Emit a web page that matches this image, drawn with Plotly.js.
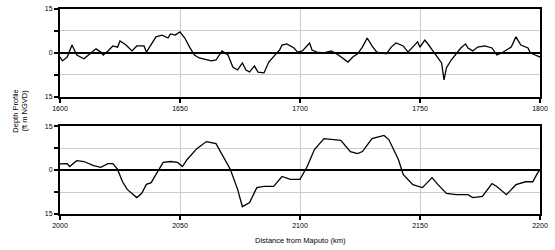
<!DOCTYPE html>
<html><head><meta charset="utf-8">
<script src="https://cdn.plot.ly/plotly-3.0.1.min.js"></script>
<style>html,body{margin:0;padding:0;background:#fff}#chart{width:555px;height:250px}</style>
</head><body><div id="chart"></div>
<script>
var topX = [1600,1601,1603,1605,1607,1609,1610,1612.5,1615,1617,1618,1620,1622,1624,1625,1627.5,1630,1632,1635,1636,1638,1640,1642.5,1645,1646,1648,1650,1652,1654,1656,1658,1661,1663,1665,1667.5,1670,1672,1674,1676,1677.5,1679,1681,1682.5,1685,1687,1690,1691.5,1692.5,1694.5,1697.5,1699,1701,1703,1704,1705,1707,1710,1713,1716,1718,1720,1722,1724,1726,1728,1730,1732,1736,1738,1740,1743,1745,1747,1749,1750,1752,1753,1755,1757,1759,1760,1761,1763,1765,1767,1769,1770,1772,1774,1777,1780,1782,1784,1786,1788,1790,1792,1795,1796,1798,1800];
var topY = [-1.4,-2.7,-1.4,2.7,-0.7,-1.4,-2,-0.3,1.4,0.3,-0.7,0.7,2.4,2,4.1,2.7,0.7,2.4,2.4,0.3,2.7,5.5,6.1,5.1,6.5,6.1,7.2,5.1,2,-0.7,-1.7,-2.4,-2.7,-2.4,0.7,-0.7,-4.8,-5.8,-3.4,-5.8,-6.5,-4.4,-6.5,-6.8,-3.1,-0.3,1,2.7,3.1,1.7,0.3,0.7,2.7,3.4,1,0.3,0,0.7,-0.7,-2,-3.1,-1.4,-0.3,2,5.1,2.4,0.3,-0.3,2,3.4,2.4,0.3,2,3.8,2,4.4,3.4,1,-1.4,-3.4,-9.2,-5.1,-2.4,-0.3,1.7,3.1,1.7,0.7,2,2.4,1.7,-0.7,0,1,2,5.5,2.7,1.7,0,-0.7,-1.4];
var botX = [2000,2003,2004,2007,2010,2014,2017,2020,2022,2024,2026,2028,2032,2034,2036,2038,2040,2043,2046,2049,2051,2053,2057,2061,2065,2068,2071,2074,2076,2079,2082,2085,2089,2092.5,2096,2100,2103,2106,2110,2117,2121,2124,2126,2130,2135,2137,2141,2143,2147,2151,2155,2157.5,2161,2165,2170,2172,2176,2180,2182,2186,2190,2194,2197,2199,2200];
var botY = [2.1,2.2,1.2,3.2,2.9,1.5,0.9,2.2,2.2,0.2,-3.9,-6.6,-9.4,-8,-4.9,-4.3,-1.5,2.6,2.9,2.6,1.2,3.6,7.3,9.7,9,4.6,0.2,-6.6,-12.5,-11.1,-6,-5.6,-5.6,-2.2,-3.2,-3.2,1.2,7,10.7,10.1,6.3,5.6,6.3,10.7,11.8,10.4,3.6,-1.5,-5,-6,-2.6,-5,-8,-8.4,-8.4,-9.4,-9,-4.6,-5.6,-8.4,-5,-4,-4,-1,0];
var topTicks = [1600,1650,1700,1750,1800];
var botTicks = [2000,2050,2100,2150,2200];
var yTickVals = [-15,-7.5,0,7.5,15];
var yTickText = ["15","","0","","15"];
var yTitle = "Depth Profile<br>(ft m NGVD)";
var xTitle = "Distance from Maputo (km)";

var font = {family:"Liberation Sans, Arial, sans-serif", size:7, color:"#000"};
var lineStyle = {color:"#000", width:1.3};
function xa(ticks, anchor){
  return {anchor:anchor, range:[ticks[0],ticks[ticks.length-1]], tickvals:ticks, ticktext:ticks.map(String),
    showline:true, mirror:true, linecolor:"#000", linewidth:2, ticks:"outside", ticklen:4, tickwidth:1.5, tickcolor:"#000",
    showgrid:true, gridcolor:"#cccccc", gridwidth:1, zeroline:false, tickfont:font, fixedrange:true};
}
function ya(domain, anchor){
  return {domain:domain, anchor:anchor, range:[-15,15], tickvals:yTickVals, ticktext:yTickText,
    showline:true, mirror:true, linecolor:"#000", linewidth:2, ticks:"outside", ticklen:4, tickwidth:1.5, tickcolor:"#000",
    showgrid:true, gridcolor:"#cccccc", gridwidth:1, zeroline:true, zerolinecolor:"#000", zerolinewidth:2, tickfont:font};
}
var data = [
  {x:topX, y:topY, xaxis:"x", yaxis:"y", mode:"lines", line:lineStyle, hoverinfo:"none"},
  {x:botX, y:botY, xaxis:"x2", yaxis:"y2", mode:"lines", line:lineStyle, hoverinfo:"none"}
];
var layout = {
  width:555, height:250, margin:{l:60,r:15,t:9,b:36}, showlegend:false,
  paper_bgcolor:"#fff", plot_bgcolor:"#fff", font:font,
  xaxis: xa(topTicks, "y"),
  yaxis: ya([0.571,1], "x"),
  xaxis2: xa(botTicks, "y2"),
  yaxis2: ya([0,0.429], "x2"),
  annotations:[
    {text:yTitle, xref:"paper", yref:"paper", x:-0.083, y:0.5, xanchor:"center", yanchor:"middle", textangle:-90, showarrow:false, font:{family:font.family,size:7.5,color:"#000"}},
    {text:xTitle, xref:"paper", yref:"paper", x:0.5, y:-0.127, xanchor:"center", yanchor:"middle", showarrow:false, font:{family:font.family,size:7.5,color:"#000"}}
  ]
};
Plotly.newPlot("chart", data, layout, {staticPlot:true, displayModeBar:false});
</script></body></html>
